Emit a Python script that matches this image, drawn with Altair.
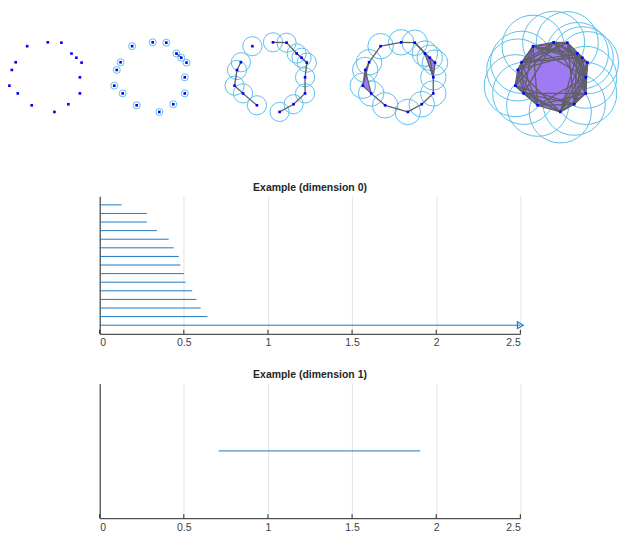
import math
from itertools import combinations

import altair as alt
import pandas as pd

# ---------------- data ----------------
# noisy circle point cloud (15 points)
pt_x = [0.07, 0.46, -0.52, 0.75, 0.89, 1.04, -0.85, -0.96, 0.99, -1.03, -0.79, 0.99, 0.66, -0.39, 0.26]
pt_y = [1.00, 0.99, 0.89, 0.68, 0.56, 0.42, 0.43, 0.21, 0.00, -0.24, -0.46, -0.46, -0.77, -0.80, -0.99]

# ball radius used in each of the five snapshots
radii = [0.0, 0.10, 0.275, 0.365, 0.89]

# persistence barcodes
dim0_birth = [0] * 15
dim0_death = [0.13, 0.28, 0.28, 0.34, 0.41, 0.44, 0.47, 0.48, 0.50, 0.51, 0.55, 0.575, 0.60, 0.64, math.inf]
dim1_birth = [0.707]
dim1_death = [1.905]
x_ticks = [0, 0.5, 1, 1.5, 2, 2.5]
x_max = 2.5

# ---------------- style / layout ----------------
FONT = "Liberation Sans"
BLUE_PT = "#0000ff"
CIRCLE = "#5bc0eb"
EDGE = "#5f5f66"
FILL = "#a07af5"
BAR = "#1f78c1"
AXIS = "#262626"
GRID = "#e3e3e3"
LABEL = "#404040"

S = 35.0  # pixels per data unit in the snapshots
panel_dom_x = [(-1.07, 1.501), (-1.506, 1.637), (-1.811, 1.789), (-1.886, 1.914), (-2.457, 1.943)]
ydom = (-1.89, 1.9)


def snapshot(i):
    r = radii[i]
    x0, x1 = panel_dom_x[i]
    w = round((x1 - x0) * S)
    h = round((ydom[1] - ydom[0]) * S)
    xs = alt.Scale(domain=[x0, x1], nice=False, zero=False)
    ys = alt.Scale(domain=list(ydom), nice=False, zero=False)
    X = lambda f: alt.X(f, type="quantitative", scale=xs, axis=None)
    Y = lambda f: alt.Y(f, type="quantitative", scale=ys, axis=None)

    pts = pd.DataFrame({"x": pt_x, "y": pt_y})
    n = len(pt_x)
    thr = 2 * r

    def d(a, b):
        return math.hypot(pt_x[a] - pt_x[b], pt_y[a] - pt_y[b])

    edges = [(a, b) for a, b in combinations(range(n), 2) if d(a, b) <= thr]
    tris = [
        t for t in combinations(range(n), 3)
        if d(t[0], t[1]) <= thr and d(t[0], t[2]) <= thr and d(t[1], t[2]) <= thr
    ]

    layers = []
    if r > 0:
        layers.append(
            alt.Chart(pts).mark_point(
                shape="circle", filled=False, stroke=CIRCLE, strokeWidth=1,
                opacity=1, size=(2 * r * S) ** 2,
            ).encode(x=X("x"), y=Y("y"))
        )
    if tris:
        rows = []
        for k, t in enumerate(tris):
            for j, v in enumerate(t):
                rows.append({"tid": k, "o": j, "x": pt_x[v], "y": pt_y[v]})
        layers.append(
            alt.Chart(pd.DataFrame(rows)).mark_line(
                fill=FILL, strokeWidth=0, fillOpacity=1, interpolate="linear-closed"
            ).encode(x=X("x"), y=Y("y"), detail="tid:N", order="o:Q")
        )
    if edges:
        rows = []
        for k, (a, b) in enumerate(edges):
            rows.append({"eid": k, "o": 0, "x": pt_x[a], "y": pt_y[a]})
            rows.append({"eid": k, "o": 1, "x": pt_x[b], "y": pt_y[b]})
        layers.append(
            alt.Chart(pd.DataFrame(rows)).mark_line(
                stroke=EDGE, strokeWidth=1.3
            ).encode(x=X("x"), y=Y("y"), detail="eid:N", order="o:Q")
        )
    layers.append(
        alt.Chart(pts).mark_square(size=7, color=BLUE_PT, opacity=1).encode(x=X("x"), y=Y("y"))
    )
    return alt.layer(*layers).properties(width=w, height=h)


top_row = alt.hconcat(*[snapshot(i) for i in range(5)], spacing=0)


def barcode(births, deaths, title, height):
    n = len(births)
    df = pd.DataFrame({
        "idx": list(range(1, n + 1)),
        "birth": births,
        "death": [min(v, x_max) for v in deaths],
        "open": [math.isinf(v) for v in deaths],
    })
    xs = alt.Scale(domain=[0, x_max], nice=False, zero=False)
    ys = alt.Scale(domain=[0, n + 1], nice=False, zero=False, reverse=True)
    xaxis = alt.Axis(values=x_ticks, format="~g", grid=True, ticks=False, title=None,
                     labelPadding=4, labelFont=FONT, labelFontSize=10.5, labelColor=LABEL,
                     domainColor=AXIS, domainWidth=1, gridColor=GRID, gridWidth=1)
    yaxis = alt.Axis(labels=False, ticks=False, grid=False, title=None, domain=True,
                     domainColor=AXIS, domainWidth=1)
    bars = alt.Chart(df).mark_rule(color=BAR, strokeWidth=1).encode(
        x=alt.X("birth:Q", scale=xs, axis=xaxis),
        x2="death:Q",
        y=alt.Y("idx:Q", scale=ys, axis=yaxis),
    )
    arrow = alt.Chart(df).transform_filter("datum.open").mark_point(
        shape="triangle-right", filled=False, size=45, color=BAR, strokeWidth=1.2, opacity=1
    ).encode(x=alt.X("death:Q", scale=xs), y=alt.Y("idx:Q", scale=ys))
    ticks = alt.Chart(pd.DataFrame({"t": x_ticks})).mark_rule(color=AXIS, strokeWidth=1).encode(
        x=alt.X("t:Q", scale=xs), y=alt.value(height), y2=alt.value(height - 4)
    )
    chart = alt.layer(bars, arrow, ticks).properties(
        width=422, height=height,
        title=alt.TitleParams(title, font=FONT, fontSize=10.5, fontWeight="bold",
                              color=AXIS, offset=3),
    )
    spacer = alt.Chart(pd.DataFrame({"a": [0]})).mark_point(opacity=0, size=1).encode(
        x=alt.value(45), y=alt.value(50)
    ).properties(width=91, height=height)
    return alt.hconcat(spacer, chart, spacing=0)


bc0 = barcode(dim0_birth, dim0_death, "Example (dimension 0)", 138)
bc1 = barcode(dim1_birth, dim1_death, "Example (dimension 1)", 135)

chart = alt.vconcat(
    top_row,
    alt.vconcat(bc0, bc1, spacing=21),
    spacing=37,
).properties(padding=0, background="white").configure_view(strokeWidth=0)

chart.save("out.html", embed_options={"renderer": "svg", "actions": False})
